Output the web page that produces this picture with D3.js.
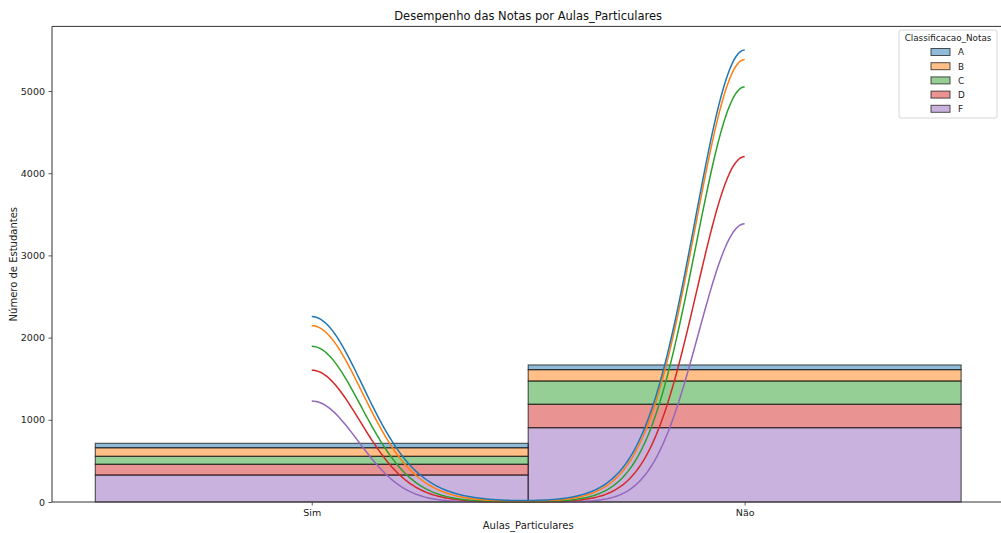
<!DOCTYPE html>
<html>
<head>
<meta charset="utf-8">
<script src="https://cdn.jsdelivr.net/npm/d3@7"></script>
<style>
  html, body { margin: 0; padding: 0; background: #fff; }
  svg { display: block; font-family: "DejaVu Sans", sans-serif; }
</style>
</head>
<body>
<svg id="chart" width="1001" height="533"></svg>
<script>
// Students per tutoring group and grade class
const categories = ["Sim", "Não"];
const grades = ["A", "B", "C", "D", "F"];
const countsA = [54, 57];
const countsB = [104, 138];
const countsC = [97, 283];
const countsD = [131, 285];
const countsF = [328, 904];
const yTicks = [0, 1000, 2000, 3000, 4000, 5000];
const gradeColors = ["#1f77b4", "#ff7f0e", "#2ca02c", "#d62728", "#9467bd"];

const countsByGrade = { A: countsA, B: countsB, C: countsC, D: countsD, F: countsF };
const colorOf = g => gradeColors[grades.indexOf(g)];
// stacking order: last grade at the bottom, first grade on top
const stackOrder = grades.slice().reverse();

const svg = d3.select("#chart");
const plotLeft = 52, plotRight = 1004.4, plotTop = 26.4, plotBottom = 502;

const x = d3.scaleLinear().domain([-0.6, 1.6]).range([plotLeft, plotRight]);
const y = d3.scaleLinear().domain([0, 5786]).range([plotBottom, plotTop]);

// stacked bars
const rows = categories.map((c, i) => {
  const r = { idx: i };
  grades.forEach(g => r[g] = countsByGrade[g][i]);
  return r;
});
const stacked = d3.stack().keys(stackOrder)(rows);

const barG = svg.append("g");
stacked.forEach(layer => {
  barG.selectAll(null).data(layer).join("rect")
    .attr("x", d => x(d.data.idx - 0.5))
    .attr("width", d => x(d.data.idx + 0.5) - x(d.data.idx - 0.5))
    .attr("y", d => y(d[1]))
    .attr("height", d => y(d[0]) - y(d[1]))
    .attr("fill", colorOf(layer.key))
    .attr("fill-opacity", 0.5)
    .attr("stroke", "#1a1a1a")
    .attr("stroke-opacity", 0.75)
    .attr("stroke-width", 1.1);
});

// Gaussian KDE of each grade's 0/1 codes (Scott bandwidth), scaled to counts and stacked
const grid = d3.range(0, 201).map(i => i / 200);
function kdeCounts(n0, n1) {
  const n = n0 + n1;
  const mean = n1 / n;
  const variance = (n0 * mean * mean + n1 * (1 - mean) * (1 - mean)) / (n - 1);
  const h = Math.sqrt(variance) * Math.pow(n, -0.2);
  const k = u => Math.exp(-0.5 * u * u) / Math.sqrt(2 * Math.PI);
  return grid.map(v => (n0 * k(v / h) + n1 * k((v - 1) / h)) / h);
}
let running = grid.map(() => 0);
const curves = [];
stackOrder.forEach(g => {
  const dens = kdeCounts(countsByGrade[g][0], countsByGrade[g][1]);
  running = running.map((v, i) => v + dens[i]);
  curves.push({ key: g, values: running.slice() });
});

const line = d3.line().x((d, i) => x(grid[i])).y(d => y(d)).curve(d3.curveLinear);
const lineG = svg.append("g");
curves.forEach(c => {
  lineG.append("path")
    .attr("d", line(c.values))
    .attr("fill", "none")
    .attr("stroke", colorOf(c.key))
    .attr("stroke-width", 1.5);
});

// axes
const yAxis = d3.axisLeft(y).tickValues(yTicks).tickSize(3.5).tickPadding(3.5).tickFormat(d3.format("d"));
const xAxis = d3.axisBottom(x).tickValues([0, 1]).tickSize(3.5).tickPadding(3.5).tickFormat(i => categories[i]);

const gy = svg.append("g").attr("transform", `translate(${plotLeft},0)`).call(yAxis);
const gx = svg.append("g").attr("transform", `translate(0,${plotBottom})`).call(xAxis);
[gx, gy].forEach(g => {
  g.select(".domain").remove();
  g.selectAll(".tick line").attr("stroke", "#333").attr("stroke-width", 0.8);
  g.selectAll(".tick text").attr("fill", "#222").attr("font-size", 9.5)
    .attr("font-family", "DejaVu Sans, sans-serif");
});

// spines
const spine = svg.append("g").attr("stroke", "#333").attr("stroke-width", 1).attr("fill", "none");
spine.append("line").attr("x1", plotLeft).attr("x2", plotLeft).attr("y1", plotTop).attr("y2", plotBottom);
spine.append("line").attr("x1", plotLeft).attr("x2", plotRight).attr("y1", plotBottom).attr("y2", plotBottom);
spine.append("line").attr("x1", plotLeft).attr("x2", plotRight).attr("y1", plotTop).attr("y2", plotTop);
spine.append("line").attr("x1", plotRight).attr("x2", plotRight).attr("y1", plotTop).attr("y2", plotBottom);

// titles
const cx = (plotLeft + plotRight) / 2;
svg.append("text").attr("x", cx).attr("y", 19.5).attr("text-anchor", "middle")
  .attr("font-size", 11.5).attr("fill", "#111").text("Desempenho das Notas por Aulas_Particulares");
svg.append("text").attr("x", cx).attr("y", 529).attr("text-anchor", "middle")
  .attr("font-size", 10).attr("fill", "#222").text("Aulas_Particulares");
svg.append("text").attr("transform", `translate(17,${(plotTop + plotBottom) / 2}) rotate(-90)`)
  .attr("text-anchor", "middle").attr("font-size", 10).attr("fill", "#222").text("Número de Estudantes");

// legend
const lg = svg.append("g").attr("transform", "translate(899,30)");
lg.append("rect").attr("width", 98).attr("height", 88).attr("rx", 2)
  .attr("fill", "#fff").attr("fill-opacity", 0.8).attr("stroke", "#ccc").attr("stroke-width", 0.8);
lg.append("text").attr("x", 49).attr("y", 11).attr("text-anchor", "middle")
  .attr("font-size", 8.8).attr("fill", "#222").text("Classificacao_Notas");
grades.forEach((g, i) => {
  const row = lg.append("g").attr("transform", `translate(0,${22 + i * 14.2})`);
  row.append("rect").attr("x", 32).attr("y", -3.5).attr("width", 19).attr("height", 7)
    .attr("fill", colorOf(g)).attr("fill-opacity", 0.5)
    .attr("stroke", "#1a1a1a").attr("stroke-opacity", 0.75).attr("stroke-width", 1);
  row.append("text").attr("x", 59).attr("y", 3.3).attr("font-size", 8.8).attr("fill", "#222").text(g);
});
</script>
</body>
</html>
